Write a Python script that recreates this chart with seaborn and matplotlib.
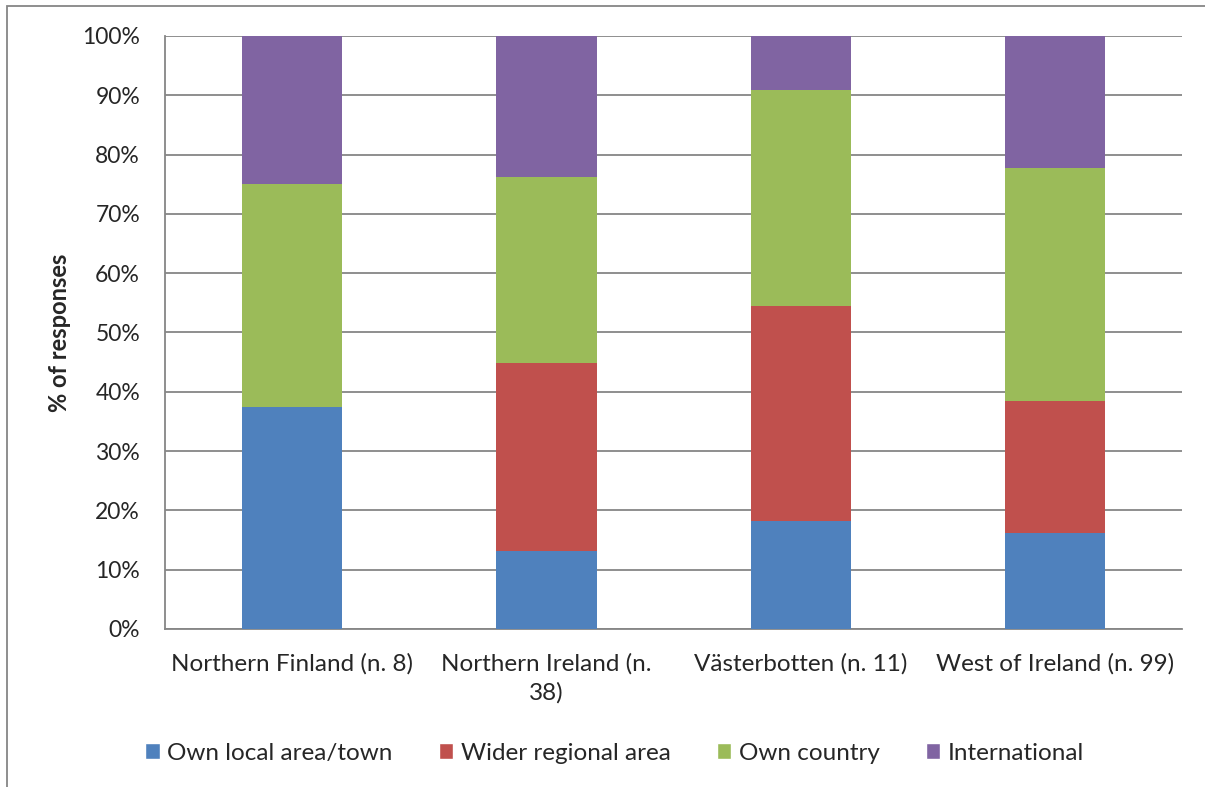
import numpy as np
import pandas as pd
import matplotlib
matplotlib.use("Agg")
import matplotlib.pyplot as plt
from matplotlib.patches import Rectangle, Patch
import seaborn as sns

regions = ["Northern Finland (n. 8)", "Northern Ireland (n.\n38)",
           "Västerbotten (n. 11)", "West of Ireland (n. 99)"]
series = ["Own local area/town", "Wider regional area", "Own country", "International"]
local_area = [37.5, 13.2, 18.2, 16.2]
regional = [0.0, 31.6, 36.3, 22.2]
country = [37.5, 31.5, 36.4, 39.4]
international = [25.0, 23.7, 9.1, 22.2]
colors = ["#4F81BD", "#C0504D", "#9BBB59", "#8064A2"]

sns.set_style("white")
plt.rcParams["font.family"] = ["Lato", "DejaVu Sans"]

df = pd.DataFrame({"region": regions, series[0]: local_area, series[1]: regional,
                   series[2]: country, series[3]: international})
cum = df[series].cumsum(axis=1)

fig = plt.figure(figsize=(12.05, 7.87), dpi=100)
ax = fig.add_axes([0.137, 0.2008, 0.844, 0.7535])

# draw cumulative bars from top segment down so each covers the one above
for s, c in zip(series[::-1], colors[::-1]):
    sns.barplot(x=df["region"], y=cum[s], color=c, width=0.395,
                saturation=1, ax=ax, zorder=3, edgecolor="none")

ax.set_ylim(0, 100)
ax.set_xlim(-0.5, 3.5)
ax.set_yticks(np.arange(0, 101, 10))
ax.set_yticklabels([f"{v}%" for v in range(0, 101, 10)], fontsize=16.5)
ax.yaxis.grid(True, color="#868686", linewidth=1.3, zorder=0)
ax.set_axisbelow(True)
ax.set_ylabel("% of responses", fontsize=17, fontweight="bold", labelpad=8)
ax.set_xlabel("")
ax.set_xticks(range(len(regions)))
ax.set_xticklabels(regions, fontsize=17.5, linespacing=1.45)
ax.set_xticks(np.arange(-0.5, 3.6, 1), minor=True)
ax.tick_params(axis="x", which="major", length=0, pad=17)
ax.tick_params(axis="x", which="minor", length=7, color="#868686", width=1.3, direction="out")
ax.tick_params(axis="y", length=7, color="#868686", width=1.3, direction="out", pad=11)
for side in ["top", "right"]:
    ax.spines[side].set_visible(False)
for side in ["left", "bottom"]:
    ax.spines[side].set_color("#868686")
    ax.spines[side].set_linewidth(1.3)

handles = [Patch(facecolor=c, label=s) for s, c in zip(series, colors)]
fig.legend(handles=handles, loc="center", bbox_to_anchor=(0.51, 0.043), ncol=4,
           frameon=False, fontsize=17.5, handlelength=0.6, handleheight=0.6,
           handletextpad=0.3, columnspacing=1.9)

fig.patches.append(Rectangle((7 / 1205, -0.05), 1.1, 1 - 6 / 787 + 0.05,
                             transform=fig.transFigure, fill=False,
                             edgecolor="#868686", linewidth=1.3))

fig.savefig("out.png", dpi=100)
